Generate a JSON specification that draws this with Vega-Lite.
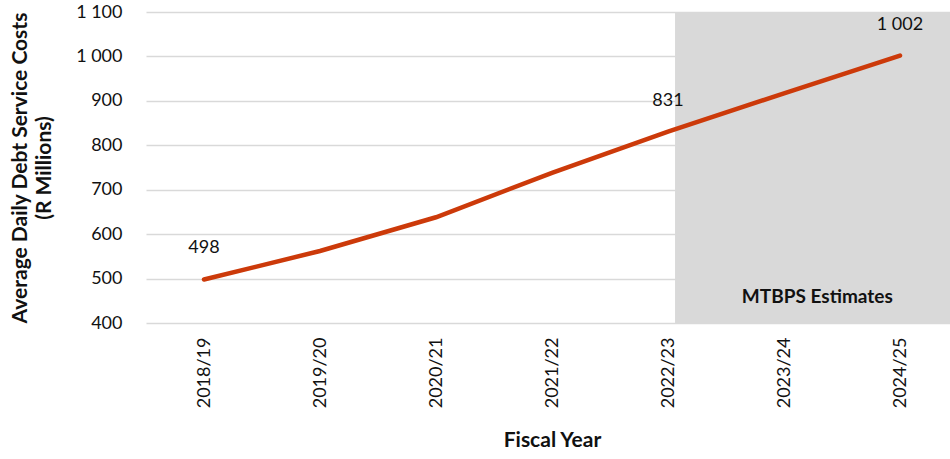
{
  "$schema": "https://vega.github.io/schema/vega-lite/v6.json",
  "autosize": "none",
  "width": 804,
  "height": 311,
  "padding": {"left": 146, "top": 12, "right": 0, "bottom": 136},
  "background": "white",
  "config": {
    "view": {"stroke": null},
    "font": "Lato",
    "axis": {"labelFont": "Lato", "titleFont": "Lato"}
  },
  "datasets": {
    "debt": [
      {"year": "2018/19", "cost": 498},
      {"year": "2019/20", "cost": 562},
      {"year": "2020/21", "cost": 638},
      {"year": "2021/22", "cost": 738},
      {"year": "2022/23", "cost": 831},
      {"year": "2023/24", "cost": 917},
      {"year": "2024/25", "cost": 1002}
    ],
    "shade": [
      {"start": 0.658, "end": 1, "label": "MTBPS Estimates"}
    ]
  },
  "layer": [
    {
      "data": {"name": "shade"},
      "layer": [
        {
          "mark": {"type": "rect", "color": "#d9d9d9"},
          "encoding": {
            "x": {"field": "start", "type": "quantitative", "scale": {"domain": [0, 1], "nice": false, "zero": false}, "axis": null},
            "x2": {"field": "end"},
            "y": {"datum": 1100, "type": "quantitative"},
            "y2": {"datum": 400}
          }
        },
        {
          "mark": {"type": "text", "fontWeight": "bold", "fontSize": 19, "color": "#111111", "baseline": "middle", "align": "center"},
          "encoding": {
            "x": {"datum": 0.835, "type": "quantitative"},
            "y": {"datum": 458, "type": "quantitative"},
            "text": {"field": "label"}
          }
        }
      ]
    },
    {
      "data": {"name": "debt"},
      "layer": [
        {
          "mark": {"type": "line", "color": "#CC3A0A", "strokeWidth": 4.5, "strokeCap": "round"},
          "encoding": {
            "x": {
              "field": "year", "type": "ordinal",
              "scale": {"type": "point", "range": [58, 754], "padding": 0},
              "axis": {
                "orient": "bottom",
                "title": "Fiscal Year", "titleFontSize": 21, "titleFontWeight": "bold", "titleColor": "#111111", "titlePadding": 22,
                "labelAngle": -90, "labelAlign": "right", "labelBaseline": "middle", "labelFontSize": 18, "labelColor": "#111111",
                "labelPadding": 14, "ticks": false, "domain": false, "grid": false
              }
            },
            "y": {
              "field": "cost", "type": "quantitative",
              "scale": {"domain": [400, 1100], "nice": false, "zero": false},
              "axis": {
                "title": ["Average Daily Debt Service Costs", "(R Millions)"],
                "titleFontSize": 21, "titleFontWeight": "bold", "titleColor": "#111111", "titlePadding": 21, "titleLineHeight": 24,
                "values": [400, 500, 600, 700, 800, 900, 1000, 1100],
                "labelExpr": "replace(format(datum.value, ',d'), ',', ' ')",
                "labelFontSize": 18, "labelColor": "#111111", "labelPadding": 24,
                "ticks": false, "domain": false,
                "grid": true, "gridColor": "#d9d9d9", "gridWidth": 1.5
              }
            }
          }
        },
        {
          "transform": [
            {"filter": {"field": "year", "oneOf": ["2018/19", "2022/23", "2024/25"]}},
            {"calculate": "replace(format(datum.cost, ',d'), ',', ' ')", "as": "costLabel"}
          ],
          "mark": {"type": "text", "fontSize": 18, "color": "#111111", "dy": -31, "baseline": "middle", "align": "center"},
          "encoding": {
            "x": {"field": "year", "type": "ordinal"},
            "y": {"field": "cost", "type": "quantitative"},
            "text": {"field": "costLabel"}
          }
        }
      ]
    }
  ],
  "resolve": {"scale": {"x": "independent"}}
}
